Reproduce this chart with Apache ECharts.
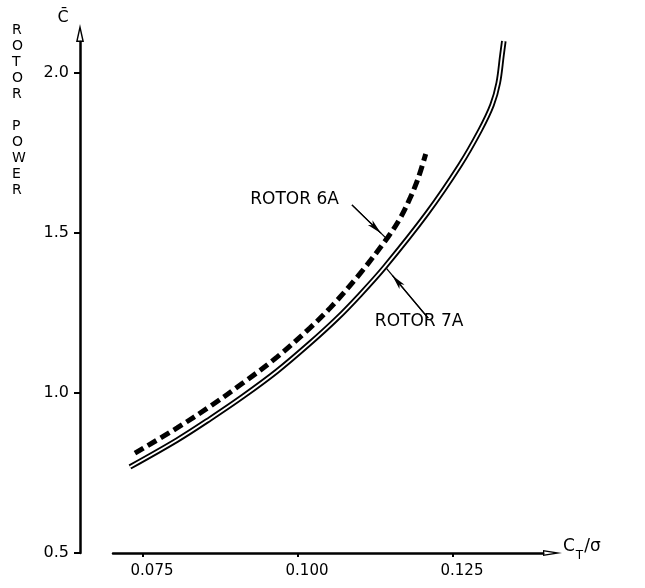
<!DOCTYPE html>
<html>
<head>
<meta charset="utf-8">
<script src="https://cdn.jsdelivr.net/npm/echarts@6/dist/echarts.min.js"></script>
<style>
html, body { margin: 0; padding: 0; background: #fff; }
#chart { width: 645px; height: 588px; }
</style>
</head>
<body>
<div id="chart"></div>
<script>
// rotor 6A (dashed) - Ct/sigma vs C bar
var ct6A = [0.0737, 0.0805, 0.0858, 0.0911, 0.0966, 0.1019, 0.1052, 0.1100, 0.1145, 0.1165, 0.1181, 0.1194, 0.1206];
var power6A = [0.812, 0.891, 0.958, 1.031, 1.112, 1.203, 1.266, 1.373, 1.487, 1.547, 1.610, 1.672, 1.747];

// rotor 7A (double line)
var ct7A = [0.0729, 0.0805, 0.0858, 0.0911, 0.0966, 0.1019, 0.1063, 0.1100, 0.1140, 0.1208, 0.1261, 0.1294, 0.1313, 0.1323, 0.1329, 0.1332];
var power7A = [0.769, 0.853, 0.919, 0.989, 1.068, 1.155, 1.233, 1.307, 1.394, 1.561, 1.711, 1.822, 1.900, 1.969, 2.056, 2.100];

var xTicks = [0.075, 0.100, 0.125];
var yTicks = [0.5, 1.0, 1.5, 2.0];

// annotation anchors, in data units
var label6A = [0.0923, 1.606];
var arrow6A = [[0.1087, 1.588], [0.1142, 1.484]];
var label7A = [0.1124, 1.222];
var arrow7A = [[0.1210, 1.234], [0.1142, 1.391]];

var ink = '#000';
var font = 'DejaVu Sans';

function pairs(xs, ys) {
	return xs.map(function (x, i) { return [x, ys[i]]; });
}

// line from label to curve, arrow head sitting just before the curve
function pointer(a) {
	var near = [a[1][0] + (a[0][0] - a[1][0]) * 0.15, a[1][1] + (a[0][1] - a[1][1]) * 0.15];
	return [
		[{ coord: a[0], symbol: 'none' }, { coord: a[1], symbol: 'none' }],
		[{ coord: a[0], symbol: 'none' }, { coord: near, symbol: 'arrow', symbolSize: [5, 15] }]
	];
}

function markLineOf(a) {
	return {
		silent: true,
		animation: false,
		label: { show: false },
		lineStyle: { color: ink, width: 1.3, type: 'solid' },
		data: pointer(a)
	};
}

// hollow triangles for the axis ends
var yArrow = 'path://M4,0 L8,18 L0,18 Z M4,6.6 L1.8,16.5 L6.2,16.5 Z';
var xArrow = 'path://M3,0 L6,19 L0,19 Z M3,8.3 L1.5,17.7 L4.5,17.7 Z';

var chart = echarts.init(document.getElementById('chart'));

var option = {
	animation: false,
	backgroundColor: '#fff',
	grid: { left: 113, right: 102, top: 42, bottom: 35, containLabel: false, outerBoundsMode: 'none' },
	xAxis: {
		type: 'value',
		min: 0.07016,
		max: 0.13952,
		name: '{a|C}{b|T}{a|/σ}',
		nameLocation: 'end',
		nameGap: 20,
		nameTextStyle: {
			padding: [0, 0, 12, 0],
			rich: {
				a: { fontSize: 17, fontFamily: font, color: ink },
				b: { fontSize: 12, fontFamily: font, color: ink, padding: [18, 1, 0, 1] }
			}
		},
		axisLine: {
			onZero: false,
			lineStyle: { color: ink, width: 2.5 },
			symbol: ['none', xArrow],
			symbolSize: [6, 19],
			symbolOffset: [0, 9.5]
		},
		axisTick: { customValues: xTicks, length: 4, lineStyle: { color: ink, width: 2 } },
		axisLabel: {
			customValues: xTicks,
			formatter: function (v) { return v.toFixed(3); },
			margin: 11,
			fontSize: 15,
			fontFamily: font,
			color: ink,
			padding: [0, 0, 0, 18]
		},
		splitLine: { show: false }
	},
	yAxis: {
		type: 'value',
		min: 0.5,
		max: 2.097,
		offset: 33,
		name: 'C\u0304',
		nameLocation: 'end',
		nameGap: 16,
		nameTextStyle: { fontSize: 16, fontFamily: font, color: ink, padding: [0, 34, 0, 0] },
		axisLine: {
			lineStyle: { color: ink, width: 2.5 },
			symbol: ['none', yArrow],
			symbolSize: [8, 18],
			symbolOffset: [0, 9]
		},
		axisTick: { customValues: yTicks, length: 6, lineStyle: { color: ink, width: 2 } },
		axisLabel: {
			customValues: yTicks,
			formatter: function (v) { return v.toFixed(1); },
			margin: 11,
			fontSize: 16,
			fontFamily: font,
			color: ink
		},
		splitLine: { show: false }
	},
	series: [
		{
			name: 'ROTOR 7A',
			type: 'line',
			data: pairs(ct7A, power7A),
			symbol: 'none',
			smooth: 0.35,
			clip: false,
			z: 2,
			lineStyle: { color: ink, width: 5.5 },
			markLine: markLineOf(arrow7A)
		},
		{
			name: 'ROTOR 7A',
			type: 'line',
			data: pairs(ct7A, power7A),
			symbol: 'none',
			smooth: 0.35,
			clip: false,
			z: 3,
			lineStyle: { color: '#fff', width: 1.8 }
		},
		{
			name: 'ROTOR 6A',
			type: 'line',
			data: pairs(ct6A, power6A),
			symbol: 'none',
			smooth: 0.35,
			clip: false,
			z: 4,
			lineStyle: { color: ink, width: 5, type: [10, 5], cap: 'butt' },
			markLine: markLineOf(arrow6A)
		}
	]
};
chart.setOption(option);

// text labels placed through the grid's own scales
var p6 = chart.convertToPixel({ gridIndex: 0 }, label6A);
var p7 = chart.convertToPixel({ gridIndex: 0 }, label7A);
chart.setOption({
	graphic: [
		{
			type: 'text', left: 12, top: 22,
			style: { text: 'R\nO\nT\nO\nR\n\nP\nO\nW\nE\nR', font: '14px ' + font, lineHeight: 16, align: 'center', fill: ink }
		},
		{
			type: 'text', x: p6[0], y: p6[1],
			style: { text: 'ROTOR 6A', font: '17px ' + font, verticalAlign: 'middle', fill: ink }
		},
		{
			type: 'text', x: p7[0], y: p7[1],
			style: { text: 'ROTOR 7A', font: '17px ' + font, verticalAlign: 'middle', fill: ink }
		}
	]
});
</script>
</body>
</html>
